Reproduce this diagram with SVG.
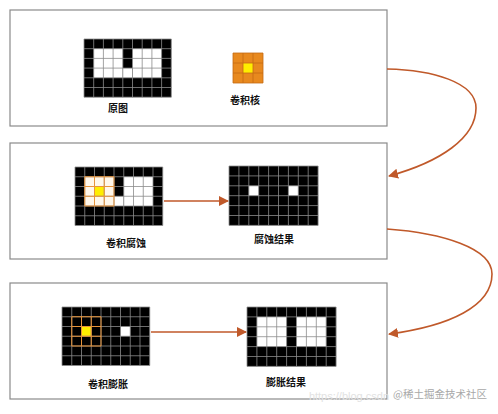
<svg xmlns="http://www.w3.org/2000/svg" xmlns:xlink="http://www.w3.org/1999/xlink" width="498" height="414" viewBox="0 0 498 414">
<style>
.panel{fill:#fff;stroke:#8a8a8a;stroke-width:1.2}
.gl{fill:none;stroke:#8c8c8c;stroke-width:0.8;vector-effect:non-scaling-stroke}
.ol{fill:none;stroke:#e8943a;stroke-width:1;vector-effect:non-scaling-stroke}
.blk{fill:#000}
.wht{fill:#fff}
.tint{fill:#fff7ea}
.yel{fill:#ffee00}
.lbl{font-family:"Noto Sans CJK SC","Noto Sans",sans-serif;font-size:10px;font-weight:bold;fill:#111;text-anchor:middle}
.conn{fill:none;stroke:#c0592a;stroke-width:1.6}
</style>
<defs>
<marker id="ahb" viewBox="0 0 10 10" refX="9" refY="5" markerWidth="10" markerHeight="10" orient="auto" markerUnits="userSpaceOnUse">
<path d="M0,0L10,5L0,10z" fill="#c0592a"/>
</marker>
<path id="grid96" class="gl" d="M0,0V6M1,0V6M2,0V6M3,0V6M4,0V6M5,0V6M6,0V6M7,0V6M8,0V6M9,0V6M0,0H9M0,1H9M0,2H9M0,3H9M0,4H9M0,5H9M0,6H9"/>
<path id="grid33" class="ol" d="M0,0V3M1,0V3M2,0V3M3,0V3M0,0H3M0,1H3M0,2H3M0,3H3"/>
</defs>
<rect width="498" height="414" fill="#fff"/>
<g id="panel1"><rect class="panel" x="10" y="10" width="377" height="116"/></g>
<g id="panel2"><rect class="panel" x="10" y="143" width="377" height="116"/></g>
<g id="panel3"><rect class="panel" x="10" y="283" width="377" height="116"/></g>

<g id="original">
<g transform="translate(84,39) scale(9.7)">
<rect class="blk" width="9" height="6"/>
<rect class="wht" x="1" y="1" width="3" height="3"/>
<rect class="wht" x="4" y="3" width="1" height="1"/>
<rect class="wht" x="5" y="1" width="3" height="3"/>
<use xlink:href="#grid96"/>
</g>
<text class="lbl" x="118" y="112">原图</text>
</g>

<g id="kernel">
<g transform="translate(233,53) scale(10)">
<rect fill="#e8891e" width="3" height="3"/>
<rect class="yel" x="1" y="1" width="1" height="1"/>
<path d="M0,0V3M1,0V3M2,0V3M3,0V3M0,0H3M0,1H3M0,2H3M0,3H3" fill="none" stroke="#c46a12" stroke-width="0.8" vector-effect="non-scaling-stroke"/>
</g>
<text class="lbl" x="245" y="104">卷积核</text>
</g>

<g id="erosion-conv">
<g transform="translate(75,167) scale(9.75)">
<rect class="blk" width="9" height="6"/>
<rect class="tint" x="1" y="1" width="3" height="3"/>
<rect class="wht" x="4" y="3" width="1" height="1"/>
<rect class="wht" x="5" y="1" width="3" height="3"/>
<rect class="yel" x="2" y="2" width="1" height="1"/>
<use xlink:href="#grid96"/>
<use xlink:href="#grid33" transform="translate(1,1)"/>
</g>
<text class="lbl" x="126" y="247">卷积腐蚀</text>
</g>

<g id="erosion-result">
<g transform="translate(229,166) scale(9.9)">
<rect class="blk" width="9" height="6"/>
<rect class="wht" x="2" y="2" width="1" height="1"/>
<rect class="wht" x="6" y="2" width="1" height="1"/>
<use xlink:href="#grid96"/>
</g>
<text class="lbl" x="274" y="243">腐蚀结果</text>
</g>

<g id="dilation-conv">
<g transform="translate(62,307) scale(9.75)">
<rect class="blk" width="9" height="6"/>
<rect class="wht" x="6" y="2" width="1" height="1"/>
<rect class="yel" x="2" y="2" width="1" height="1"/>
<use xlink:href="#grid96"/>
<use xlink:href="#grid33" transform="translate(1,1)"/>
</g>
<text class="lbl" x="108" y="388">卷积膨胀</text>
</g>

<g id="dilation-result">
<g transform="translate(247,307) scale(9.9)">
<rect class="blk" width="9" height="6"/>
<rect class="wht" x="1" y="1" width="3" height="3"/>
<rect class="wht" x="5" y="1" width="3" height="3"/>
<use xlink:href="#grid96"/>
</g>
<text class="lbl" x="286" y="386">膨胀结果</text>
</g>

<g id="connectors">
<path class="conn" d="M164,201H228" marker-end="url(#ahb)"/>
<path class="conn" d="M151,332H246" marker-end="url(#ahb)"/>
<path class="conn" d="M387,69C432,70 476,82 476,108C476,138 440,162 389,176" marker-end="url(#ahb)"/>
<path class="conn" d="M387,229C442,233 492,248 492,274C492,306 450,326 389,334" marker-end="url(#ahb)"/>
</g>

<g id="watermark">
<text x="389" y="400" text-anchor="end" font-family="Liberation Sans, sans-serif" font-size="11" fill="#e2e2e2">https://blog.csdn</text>
<text x="393" y="398" font-family="Noto Sans CJK SC, sans-serif" font-size="10.5" fill="#a8a8a8">@稀土掘金技术社区</text>
</g>
</svg>
